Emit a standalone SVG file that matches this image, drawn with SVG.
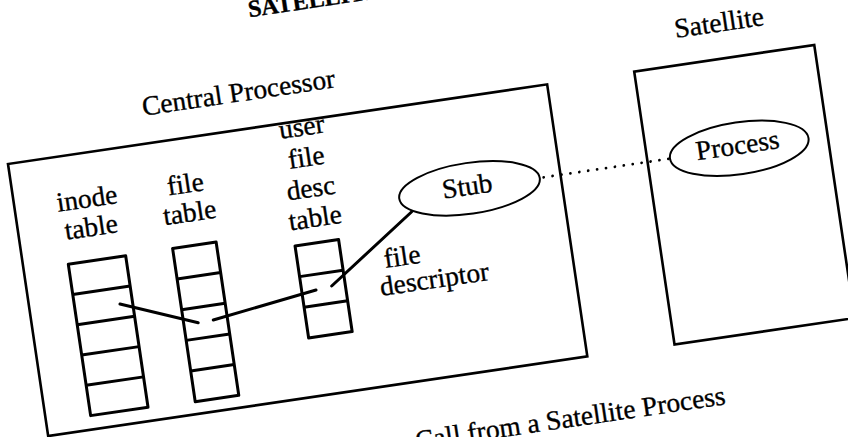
<svg xmlns="http://www.w3.org/2000/svg" width="848" height="437" viewBox="0 0 848 437">
<style>
  .box{fill:none;stroke:#000;stroke-width:2.6;stroke-linejoin:miter}
  .cell{fill:none;stroke:#000;stroke-width:3;stroke-linejoin:round}
  .oval{fill:none;stroke:#000;stroke-width:2}
  .link{fill:none;stroke:#000;stroke-width:3;stroke-linecap:round}
  .dots{fill:none;stroke:#000;stroke-width:2.8;stroke-linecap:round;stroke-dasharray:0 9}
  text{font-family:"Liberation Serif","Times New Roman",serif;font-size:27.5px;fill:#000;stroke:#000;stroke-width:0.35}
  .mid{text-anchor:middle}
  .head{font-weight:bold;font-size:24px}
</style>
<rect width="848" height="437" fill="#fff"/>
<!-- whole page is tilted; everything is laid out square and turned as one -->
<g transform="rotate(-8.4 8 164)">
  <text class="head" x="268" y="54">SATELLITE</text>

  <g id="central-processor">
    <text x="149" y="136">Central Processor</text>
    <rect class="box" x="8" y="164" width="545" height="275"/>
  </g>

  <g id="inode-table">
    <text class="mid" x="81" y="218.6">inode</text>
    <text class="mid" x="81" y="247.5">table</text>
    <rect class="cell" x="53" y="272" width="58" height="153"/>
    <path class="cell" d="M53 302.6H111M53 333.2H111M53 363.8H111M53 394.4H111"/>
  </g>

  <g id="file-table">
    <text class="mid" x="180.5" y="218.6">file</text>
    <text class="mid" x="180.5" y="247.5">table</text>
    <rect class="cell" x="158.5" y="271.5" width="44" height="155"/>
    <path class="cell" d="M158.5 302.5H202.5M158.5 333.5H202.5M158.5 364.5H202.5M158.5 395.5H202.5"/>
  </g>

  <g id="user-fd-table">
    <text class="mid" x="304" y="179">user</text>
    <text class="mid" x="304" y="210">file</text>
    <text class="mid" x="304" y="241">desc</text>
    <text class="mid" x="304" y="271">table</text>
    <rect class="cell" x="280" y="287" width="44" height="93"/>
    <path class="cell" d="M280 318H324M280 349H324"/>
    <text x="366" y="322">file</text>
    <text x="358" y="349">descriptor</text>
  </g>

  <g id="stub">
    <ellipse class="oval" cx="461" cy="255.5" rx="71" ry="25.5"/>
    <text class="mid" x="459" y="262">Stub</text>
  </g>

  <g id="satellite">
    <text class="mid" x="732" y="137">Satellite</text>
    <rect class="box" x="641" y="164" width="182" height="276"/>
  </g>

  <g id="process">
    <ellipse class="oval" cx="733.7" cy="255.3" rx="70" ry="26"/>
    <text class="mid" x="732.5" y="261">Process</text>
  </g>

  <g id="connectors">
    <line class="link" x1="98.3" y1="318.9" x2="173" y2="348.8"/>
    <line class="link" x1="188.3" y1="348.3" x2="294.3" y2="333.6"/>
    <line class="link" x1="310.4" y1="332" x2="400.4" y2="270.2"/>
    <line class="dots" x1="536" y1="255.4" x2="663" y2="255.4"/>
  </g>

  <text x="370.5" y="506.5">Call from a Satellite Process</text>
</g>
</svg>
